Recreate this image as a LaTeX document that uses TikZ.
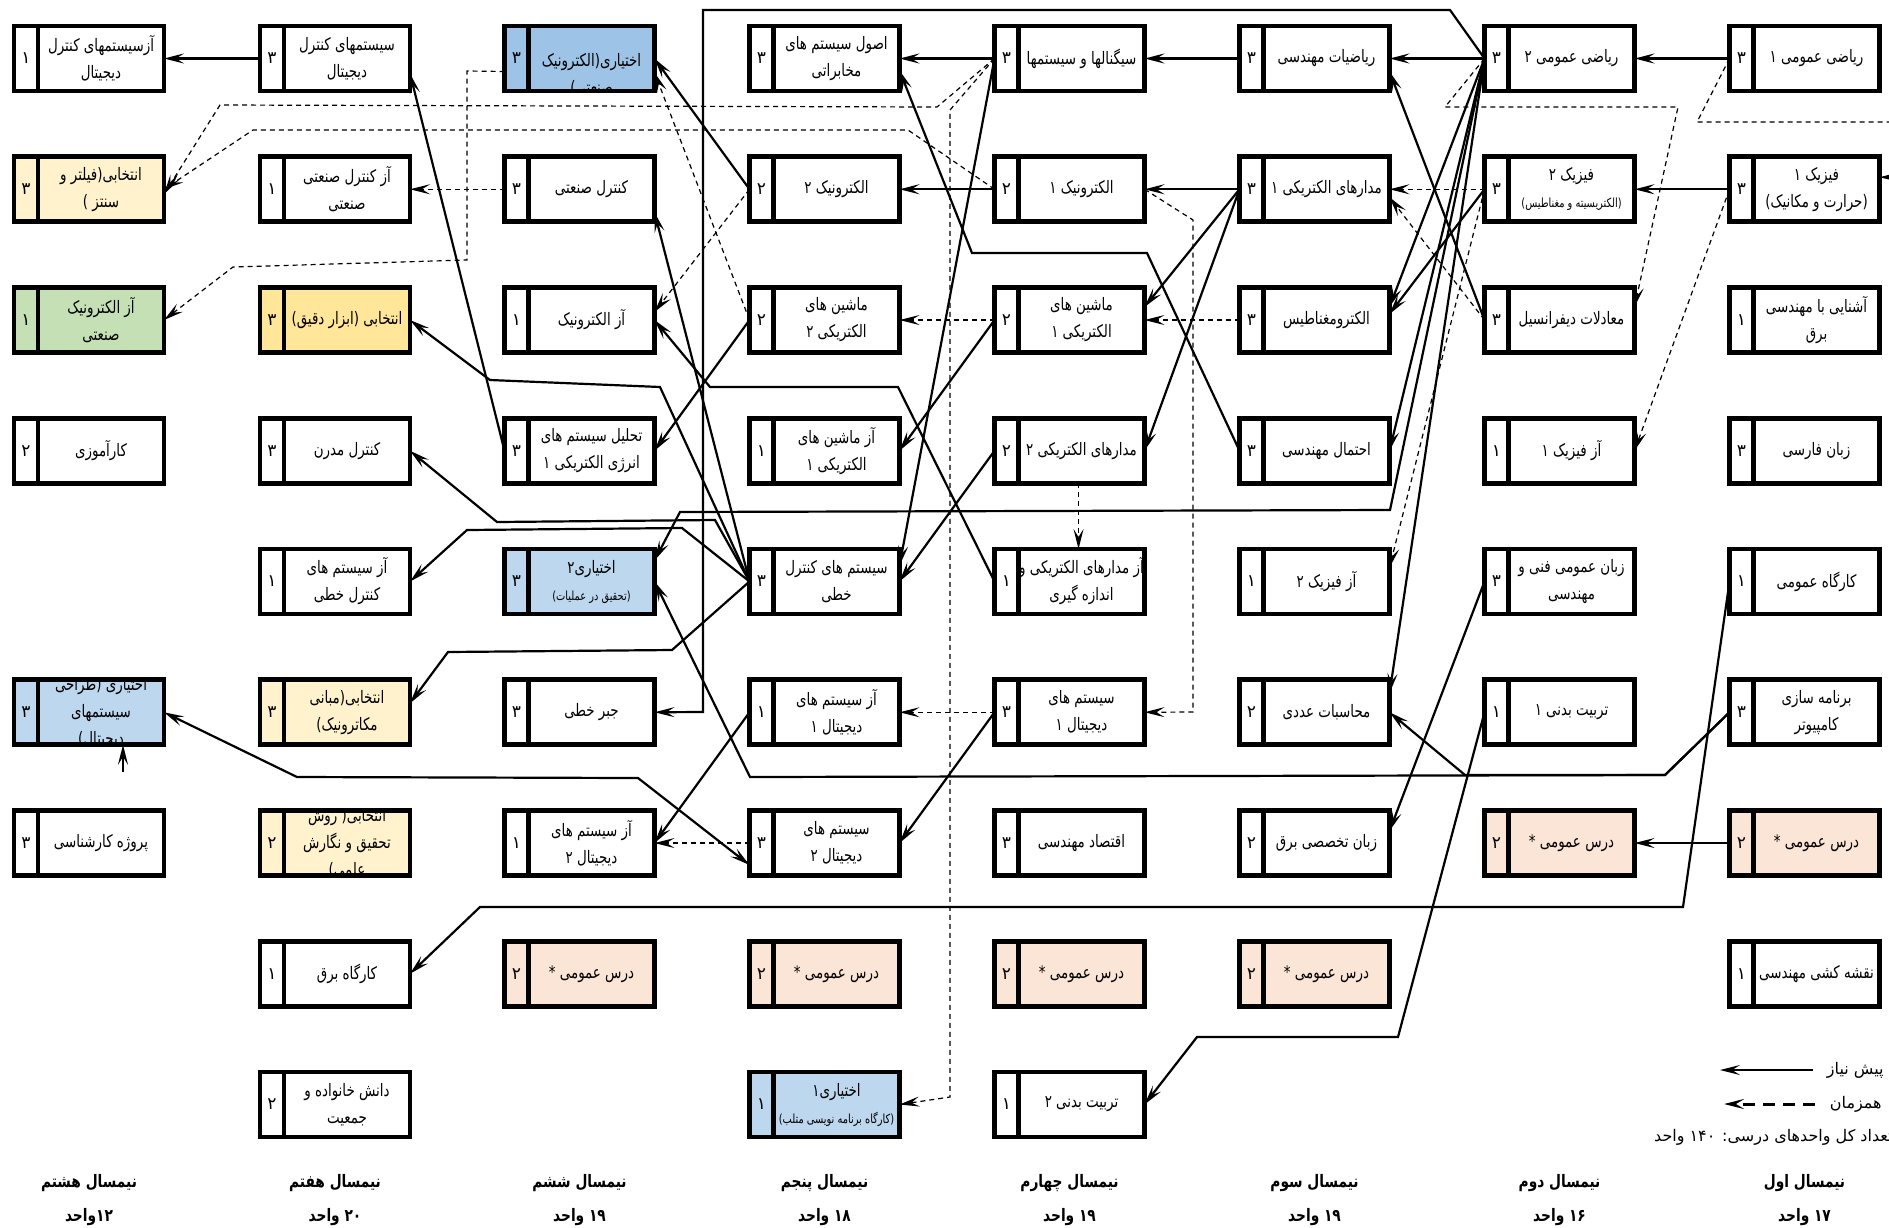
\documentclass[tikz,border=0pt]{standalone}
\usepackage{fontspec}
\usepackage{tikz}
\usetikzlibrary{arrows.meta,calc,positioning}
\TeXXeTstate=1
\newfontfamily\fafont[Script=Arabic, FakeStretch=0.78]{DejaVu Sans}
\newfontfamily\falabel[Script=Arabic]{DejaVu Sans}
\newfontfamily\fahead[Script=Arabic, FakeStretch=0.8]{DejaVu Sans}
\newcommand{\fa}[1]{\beginR#1\endR}
\newcommand{\fsmall}{\fontsize{6.3}{8}\selectfont}
\definecolor{optblue}{HTML}{BDD7EE}
\definecolor{optbluedark}{HTML}{9DC3E6}
\definecolor{selyellow}{HTML}{FFF2CC}
\definecolor{selgold}{HTML}{FFE699}
\definecolor{labgreen}{HTML}{C5E0B4}
\definecolor{genpeach}{HTML}{FBE5D6}

% one course box: name, column, row, units, fill, title
\newcommand{\course}[6]{%
  \node[box, fill=#5] (#1) at (c#2|-r#3) {};
  \begin{scope}
    \clip (#1.south west) rectangle (#1.north east);
    \node[title] at ($(#1.center)+(12,0)$) {#6};
  \end{scope}
  \node[units] at ($(#1.west)+(12,0)$) {\fa{#4}};
  \draw[frame] (#1.south west) rectangle (#1.north east)
    ($(#1.north west)+(24,0)$) -- ($(#1.south west)+(24,0)$);
}

\begin{document}
\begin{tikzpicture}[
    x=0.5pt, y=-0.5pt,
    box/.style={rectangle, minimum width=75pt, minimum height=32.5pt, inner sep=0pt, outer sep=0pt},
    title/.style={font=\fafont\fontsize{8.6}{13.5}\selectfont, align=center, inner sep=0pt},
    units/.style={font=\falabel\fontsize{8.5}{9}\selectfont, inner sep=0pt},
    frame/.style={line width=2.3pt},
    pre/.style={-{Stealth[length=10pt,width=5pt,inset=4pt]}, line width=1.1pt},
    co/.style={pre, line width=0.6pt, dash pattern=on 2.5pt off 2pt},
    both/.style={{Stealth[length=10pt,width=5pt,inset=4pt]}-{Stealth[length=10pt,width=5pt,inset=4pt]}, line width=1.1pt},
    semester/.style={font=\fahead\bfseries\fontsize{8.6}{17}\selectfont, align=center},
    legend/.style={font=\falabel\fontsize{8}{10}\selectfont, anchor=east, inner sep=0pt}
]
    \useasboundingbox (0,0) rectangle (1889,1227);
    \fill[white] (0,0) rectangle (1889,1227);

    % columns (semesters, right to left) and rows
    \foreach \k/\x in {1/1804.5, 2/1559.5, 3/1314.5, 4/1069.5, 5/824.5, 6/579.5, 7/335, 8/89}
        \coordinate (c\k) at (\x,0);
    \foreach \r in {1,...,9}
        \coordinate (r\r) at (0,{58.5+130.75*(\r-1)});
    \coordinate (semrow) at (0,1200);

    % semester 1
    \course{riazi1}{1}{1}{۳}{white}{\fa{ریاضی عمومی ۱}}
    \course{fizik1}{1}{2}{۳}{white}{\fa{فیزیک ۱}\\\fa{(حرارت و مکانیک)}}
    \course{ashnayi}{1}{3}{۱}{white}{\fa{آشنایی با مهندسی}\\\fa{برق}}
    \course{farsi}{1}{4}{۳}{white}{\fa{زبان فارسی}}
    \course{kargah1}{1}{5}{۱}{white}{\fa{کارگاه عمومی}}
    \course{barname}{1}{6}{۳}{white}{\fa{برنامه سازی}\\\fa{کامپیوتر}}
    \course{omumi1}{1}{7}{۲}{genpeach}{\fa{درس عمومی *}}
    \course{naghshe}{1}{8}{۱}{white}{\fa{نقشه کشی مهندسی}}

    % semester 2
    \course{riazi2}{2}{1}{۳}{white}{\fa{ریاضی عمومی ۲}}
    \course{fizik2}{2}{2}{۳}{white}{\fa{فیزیک ۲}\\\fa{\fsmall(الکتریسیته و مغناطیس)}}
    \course{moadelat}{2}{3}{۳}{white}{\fa{معادلات دیفرانسیل}}
    \course{azfizik1}{2}{4}{۱}{white}{\fa{آز فیزیک ۱}}
    \course{zaban}{2}{5}{۳}{white}{\fa{زبان عمومی فنی و}\\\fa{مهندسی}}
    \course{tarbiat1}{2}{6}{۱}{white}{\fa{تربیت بدنی ۱}}
    \course{omumi2}{2}{7}{۲}{genpeach}{\fa{درس عمومی *}}

    % semester 3
    \course{riaziat}{3}{1}{۳}{white}{\fa{ریاضیات مهندسی}}
    \course{madar1}{3}{2}{۳}{white}{\fa{مدارهای الکتریکی ۱}}
    \course{elecmag}{3}{3}{۳}{white}{\fa{الکترومغناطیس}}
    \course{ehtemal}{3}{4}{۳}{white}{\fa{احتمال مهندسی}}
    \course{azfizik2}{3}{5}{۱}{white}{\fa{آز فیزیک ۲}}
    \course{mohasebat}{3}{6}{۲}{white}{\fa{محاسبات عددی}}
    \course{zabantakh}{3}{7}{۲}{white}{\fa{زبان تخصصی برق}}
    \course{omumi3}{3}{8}{۲}{genpeach}{\fa{درس عمومی *}}

    % semester 4
    \course{signal}{4}{1}{۳}{white}{\fa{سیگنالها و سیستمها}}
    \course{elec1}{4}{2}{۲}{white}{\fa{الکترونیک ۱}}
    \course{mashin1}{4}{3}{۲}{white}{\fa{ماشین های}\\\fa{الکتریکی ۱}}
    \course{madar2}{4}{4}{۲}{white}{\fa{مدارهای الکتریکی ۲}}
    \course{azmadar}{4}{5}{۱}{white}{\fa{آز مدارهای الکتریکی و}\\\fa{اندازه گیری}}
    \course{digital1}{4}{6}{۳}{white}{\fa{سیستم های}\\\fa{دیجیتال ۱}}
    \course{eghtesad}{4}{7}{۳}{white}{\fa{اقتصاد مهندسی}}
    \course{omumi4}{4}{8}{۲}{genpeach}{\fa{درس عمومی *}}
    \course{tarbiat2}{4}{9}{۱}{white}{\fa{تربیت بدنی ۲}}

    % semester 5
    \course{osul}{5}{1}{۳}{white}{\fa{اصول سیستم های}\\\fa{مخابراتی}}
    \course{elec2}{5}{2}{۲}{white}{\fa{الکترونیک ۲}}
    \course{mashin2}{5}{3}{۲}{white}{\fa{ماشین های}\\\fa{الکتریکی ۲}}
    \course{azmashin1}{5}{4}{۱}{white}{\fa{آز ماشین های}\\\fa{الکتریکی ۱}}
    \course{kontrolkhati}{5}{5}{۳}{white}{\fa{سیستم های کنترل}\\\fa{خطی}}
    \course{azdigital1}{5}{6}{۱}{white}{\fa{آز سیستم های}\\\fa{دیجیتال ۱}}
    \course{digital2}{5}{7}{۳}{white}{\fa{سیستم های}\\\fa{دیجیتال ۲}}
    \course{omumi5}{5}{8}{۲}{genpeach}{\fa{درس عمومی *}}
    \course{ekhtiari1}{5}{9}{۱}{optblue}{\fa{اختیاری۱}\\\fa{\fsmall(کارگاه برنامه نویسی متلب)}}

    % semester 6
    \course{ekhtelec}{6}{1}{۳}{optbluedark}{\strut\\\fa{اختیاری(الکترونیک}\\\fa{صنعتی)}}
    \course{kontsanati}{6}{2}{۳}{white}{\fa{کنترل صنعتی}}
    \course{azelec}{6}{3}{۱}{white}{\fa{آز الکترونیک}}
    \course{tahlil}{6}{4}{۳}{white}{\fa{تحلیل سیستم های}\\\fa{انرژی الکتریکی ۱}}
    \course{ekhtiari2}{6}{5}{۳}{optblue}{\fa{اختیاری۲}\\\fa{\fsmall(تحقیق در عملیات)}}
    \course{jabr}{6}{6}{۳}{white}{\fa{جبر خطی}}
    \course{azdigital2}{6}{7}{۱}{white}{\fa{آز سیستم های}\\\fa{دیجیتال ۲}}
    \course{omumi6}{6}{8}{۲}{genpeach}{\fa{درس عمومی *}}

    % semester 7
    \course{kontdigital}{7}{1}{۳}{white}{\fa{سیستمهای کنترل}\\\fa{دیجیتال}}
    \course{azkontsanati}{7}{2}{۱}{white}{\fa{آز کنترل صنعتی}\\\fa{صنعتی}}
    \course{abzar}{7}{3}{۳}{selgold}{\fa{انتخابی (ابزار دقیق)}}
    \course{modern}{7}{4}{۳}{white}{\fa{کنترل مدرن}}
    \course{azkhati}{7}{5}{۱}{white}{\fa{آز سیستم های}\\\fa{کنترل خطی}}
    \course{mechatronic}{7}{6}{۳}{selyellow}{\fa{انتخابی(مبانی}\\\fa{مکاترونیک)}}
    \course{ravesh}{7}{7}{۲}{selyellow}{\fa{انتخابی( روش}\\\fa{تحقیق و نگارش}\\\fa{علمی)}}
    \course{kargahbargh}{7}{8}{۱}{white}{\fa{کارگاه برق}}
    \course{danesh}{7}{9}{۲}{white}{\fa{دانش خانواده و}\\\fa{جمعیت}}

    % semester 8
    \course{azkontdigital}{8}{1}{۱}{white}{\fa{آزسیستمهای کنترل}\\\fa{دیجیتال}}
    \course{filter}{8}{2}{۳}{selyellow}{\fa{انتخابی(فیلتر و}\\\fa{سنتز )}}
    \course{azelecsanati}{8}{3}{۱}{labgreen}{\fa{آز الکترونیک}\\\fa{صنعتی}}
    \course{karamouzi}{8}{4}{۲}{white}{\fa{کارآموزی}}
    \course{tarahi}{8}{6}{۳}{optblue}{\fa{اختیاری (طراحی}\\\fa{سیستمهای}\\\fa{دیجیتال)}}
    \course{project}{8}{7}{۳}{white}{\fa{پروژه کارشناسی}}

    % prerequisites
    \draw[pre] (riazi1.west) -- (riazi2.east);
    \draw[pre] (fizik1.west) -- (fizik2.east);
    \draw[pre] (omumi1.west) -- (omumi2.east);
    \draw[pre] (riazi2.west) -- (riaziat.east);
    \draw[pre] (riaziat.west) -- (signal.east);
    \draw[pre] (signal.west) -- (osul.east);
    \draw[pre] (kontdigital.west) -- (azkontdigital.east);
    \draw[pre] (madar1.west) -- (elec1.east);
    \draw[pre] (elec1.west) -- (elec2.east);
    \draw[pre] (elec2.west) -- (ekhtelec.east);
    \draw[pre] (riazi2.west) -- ($(elecmag.east)+(0,-13)$);
    \draw[pre] (fizik2.west) -- ($(elecmag.east)+(0,-6)$);
    \draw[pre] (riazi2.west) -- (ehtemal.east);
    \draw[pre] (riazi2.west) -- ($(mohasebat.east)+(0,-19)$);
    \draw[pre] (riazi2.west) -- (1390,510) -- (680,512) -- ($(ekhtiari2.east)+(0,-21)$);
    \draw[pre] (riazi2.west) -- (1450,10) -- (703,10) -- (703,712) -- (jabr.east);
    \draw[pre] (moadelat.west) -- ($(riaziat.east)+(0,13)$);
    \draw[pre] (zaban.west) -- ($(zabantakh.east)+(0,-12)$);
    \draw[pre] (tarbiat1.west) -- (1398,1037) -- (1197,1037) -- (tarbiat2.east);
    \draw[pre] (barname.west) -- (1665,775) -- (1465,775) -- (mohasebat.east);
    \draw[pre] (barname.west) -- (1665,775) -- (750,777) -- (ekhtiari2.east);
    \draw[pre] (kargah1.west) -- (1683,907) -- (480,907) -- (kargahbargh.east);
    \draw[pre] (madar1.west) -- ($(mashin1.east)+(0,-13)$);
    \draw[pre] (madar1.west) -- (madar2.east);
    \draw[pre] (ehtemal.west) -- (1147,253) -- (972,253) -- ($(osul.east)+(0,12)$);
    \draw[pre] (azmadar.west) -- (898,387) -- (710,387) -- (azelec.east);
    \draw[pre] (kontrolkhati.west) -- ($(kontsanati.east)+(0,23)$);
    \draw[pre] (tahlil.west) -- ($(kontdigital.east)+(0,15)$);
    \draw[pre] (kontrolkhati.west) -- (715,520) -- (497,522) -- (modern.east);
    \draw[pre] (kontrolkhati.west) -- (682,528) -- (467,530) -- (azkhati.east);
    \draw[pre] (kontrolkhati.west) -- (672,650) -- (448,652) -- ($(mechatronic.east)+(0,-9)$);
    \draw[pre] (kontrolkhati.west) -- (660,387) -- (490,380) -- (abzar.east);
    \draw[pre] (mashin2.west) -- (tahlil.east);
    \draw[pre] (mashin1.west) -- (azmashin1.east);
    \draw[pre] (signal.west) -- ($(kontrolkhati.east)+(0,-16)$);
    \draw[pre] (madar2.west) -- (kontrolkhati.east);
    \draw[pre] (digital1.west) -- (digital2.east);
    \draw[pre] (azdigital1.west) -- (azdigital2.east);
    \draw[both] (tarahi.east) -- (297,777) -- (638,778) -- ($(digital2.west)+(0,22)$);
    \coordinate (tarahifoot) at (123,772);
    \draw[pre] (tarahifoot) -- (tarahifoot|-tarahi.south);

    % co-requisites
    \draw[co] (riazi1.west) -- (1697,122) -- (1905,122) -- (1905,177) -- ($(fizik1.east)+(0,-12)$);
    \draw[co] (fizik1.west) -- (azfizik1.east);
    \draw[co] (riazi2.west) -- (1445,107) -- (1678,107) -- ($(moadelat.east)+(0,-13)$);
    \draw[co] (fizik2.west) -- (madar1.east);
    \draw[co] (moadelat.west) -- ($(madar1.east)+(0,8)$);
    \draw[co] (fizik2.west) -- ($(azfizik2.east)+(0,-14)$);
    \draw[co] (elecmag.west) -- (mashin1.east);
    \draw[co] (mashin1.west) -- (mashin2.east);
    \draw[co] (elec1.east) -- (1193,220) -- (1193,712) -- (digital1.east);
    \draw[co] ($(madar2.south)+(9,0)$) -- ($(azmadar.north)+(9,0)$);
    \draw[co] (digital1.west) -- (azdigital1.east);
    \draw[co] (digital2.west) -- (azdigital2.east);
    \draw[co] (signal.west) -- (950,110) -- (950,1097) -- (ekhtiari1.east);
    \draw[co] (signal.west) -- (937,107) -- (220,105) -- ($(filter.east)+(0,5)$);
    \draw[co] (elec1.west) -- (908,130) -- (253,130) -- (filter.east);
    \draw[co] (elec2.west) -- ($(azelec.east)+(0,-8)$);
    \draw[co] (mashin2.west) -- ($(ekhtelec.east)+(0,14)$);
    \draw[co] (kontsanati.west) -- (azkontsanati.east);
    \draw[co] ($(ekhtelec.west)+(0,13)$) -- (467,71) -- (467,260) -- (233,267) -- (azelecsanati.east);

    % legend
    \node[legend] (prelabel) at (1884,1070) {\fa{پیش نیاز}};
    \coordinate (prefrom) at (1813,1070);
    \coordinate (preto) at (1720,1070);
    \draw[pre] (prefrom) -- (preto);
    \node[legend] (colabel) at (1882,1104) {\fa{همزمان}};
    \coordinate (cofrom) at (1815,1104);
    \coordinate (coto) at (1724,1104);
    \draw[-{Stealth[length=10pt,width=5pt,inset=4pt]}, line width=1.5pt, dash pattern=on 6pt off 4pt] (cofrom) -- (coto);
    \node[legend] (total) at (1893,1137) {\fa{تعداد کل واحدهای درسی: ۱۴۰ واحد}};

    % semesters
    \node[semester] (sem1) at (c1|-semrow) {\fa{نیمسال اول}\\\fa{۱۷ واحد}};
    \node[semester] (sem2) at (c2|-semrow) {\fa{نیمسال دوم}\\\fa{۱۶ واحد}};
    \node[semester] (sem3) at (c3|-semrow) {\fa{نیمسال سوم}\\\fa{۱۹ واحد}};
    \node[semester] (sem4) at (c4|-semrow) {\fa{نیمسال چهارم}\\\fa{۱۹ واحد}};
    \node[semester] (sem5) at (c5|-semrow) {\fa{نیمسال پنجم}\\\fa{۱۸ واحد}};
    \node[semester] (sem6) at (c6|-semrow) {\fa{نیمسال ششم}\\\fa{۱۹ واحد}};
    \node[semester] (sem7) at (c7|-semrow) {\fa{نیمسال هفتم}\\\fa{۲۰ واحد}};
    \node[semester] (sem8) at (c8|-semrow) {\fa{نیمسال هشتم}\\\fa{۱۲واحد}};
\end{tikzpicture}
\end{document}
